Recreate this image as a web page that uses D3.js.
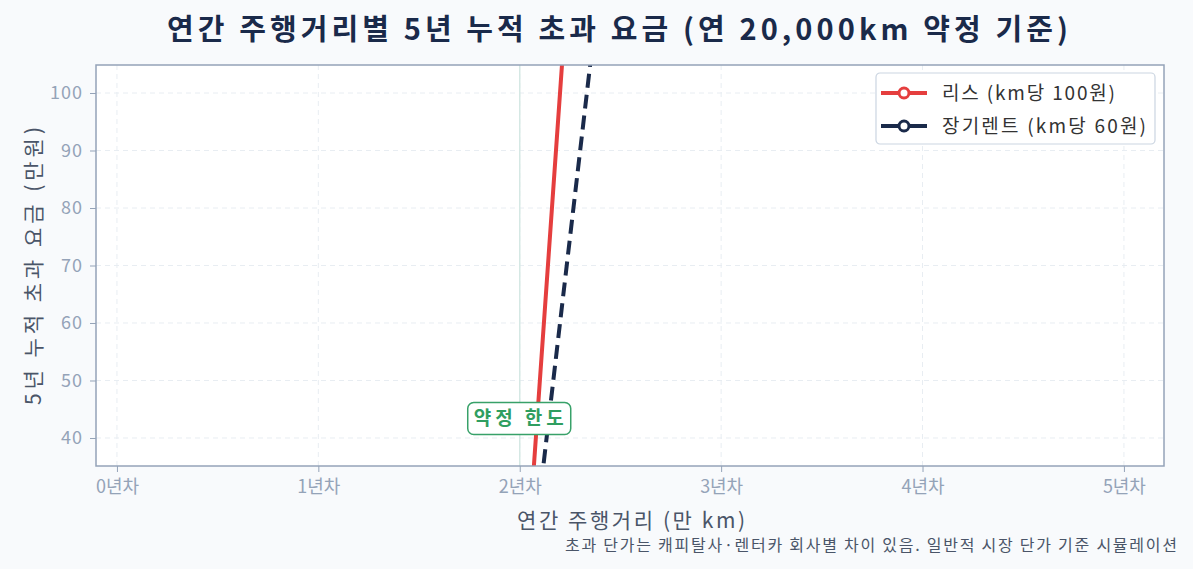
<!DOCTYPE html>
<html>
<head>
<meta charset="utf-8">
<script src="https://cdn.jsdelivr.net/npm/d3@7"></script>
<style>
  html, body { margin: 0; padding: 0; background: #f8fafc; }
  svg text { font-family: "Noto Sans CJK KR", "Noto Sans", sans-serif; }
</style>
</head>
<body>
<svg id="chart" width="1193" height="569"></svg>
<script>
// annual mileage (만 km) and 5-year cumulative excess fee (만원)
const distances = [0, 1, 2, 2.5, 3, 4, 5];
const leaseFee = [0, 0, 0, 250, 500, 1000, 1500];
const rentFee = [0, 0, 0, 150, 300, 600, 900];
const xTicks = [0, 1, 2, 3, 4, 5];
const xTickLabels = ["0년차", "1년차", "2년차", "3년차", "4년차", "5년차"];
const yTicks = [40, 50, 60, 70, 80, 90, 100];
const limitX = 2;

const svg = d3.select("#chart");
const margin = { left: 96, right: 29, top: 65, bottom: 103 };
const W = 1193, H = 569;
const pw = W - margin.left - margin.right, ph = H - margin.top - margin.bottom;

const x = d3.scaleLinear().domain([-0.104, 5.199]).range([0, pw]);
const y = d3.scaleLinear().domain([35.13, 104.87]).range([ph, 0]);

const g = svg.append("g").attr("transform", `translate(${margin.left},${margin.top})`);

g.append("rect").attr("width", pw).attr("height", ph).attr("fill", "#ffffff");

// grid
g.selectAll(".gx").data(xTicks).enter().append("line")
  .attr("x1", d => x(d)).attr("x2", d => x(d)).attr("y1", 0).attr("y2", ph)
  .attr("stroke", "#e8edf2").attr("stroke-dasharray", "5,4").attr("stroke-width", 1);
g.selectAll(".gy").data(yTicks).enter().append("line")
  .attr("y1", d => y(d)).attr("y2", d => y(d)).attr("x1", 0).attr("x2", pw)
  .attr("stroke", "#e8edf2").attr("stroke-dasharray", "5,4").attr("stroke-width", 1);

// contract limit line
g.append("line").attr("x1", x(limitX)).attr("x2", x(limitX)).attr("y1", 0).attr("y2", ph)
  .attr("stroke", "#d5e8e4").attr("stroke-width", 1.5);

svg.append("defs").append("clipPath").attr("id", "clip")
  .append("rect").attr("width", pw).attr("height", ph);

const line = d3.line().x(d => x(d[0])).y(d => y(d[1]));
const plot = g.append("g").attr("clip-path", "url(#clip)");

const series = [
  { name: "리스 (km당 100원)", values: leaseFee, color: "#e53e3e", dash: null, len: 173 },
  { name: "장기렌트 (km당 60원)", values: rentFee, color: "#1a2a4a", dash: "14,7", len: 204 }
];

series.forEach(s => {
  const pts = distances.map((d, i) => [d, s.values[i]]);
  plot.append("path").datum(pts).attr("d", line)
    .attr("fill", "none").attr("stroke", s.color).attr("stroke-width", 4)
    .attr("stroke-dasharray", s.dash);
  plot.selectAll(null).data(pts).enter().append("circle")
    .attr("cx", d => x(d[0])).attr("cy", d => y(d[1])).attr("r", 5)
    .attr("fill", "#fff").attr("stroke", s.color).attr("stroke-width", 3);
});

// annotation
const ann = g.append("g").attr("transform", `translate(${x(limitX) - 1},${y(43.4)})`);
ann.append("rect").attr("x", -51).attr("y", -16).attr("width", 103).attr("height", 32).attr("rx", 6)
  .attr("fill", "#fff").attr("stroke", "#38a169").attr("stroke-width", 1.5);
ann.append("text").attr("text-anchor", "middle").attr("dy", "0.35em")
  .attr("font-size", 19).attr("font-weight", "bold").attr("fill", "#2f9e60")
  .attr("textLength", 90).attr("lengthAdjust", "spacing").text("약정 한도");

// axes
const xAxis = g.append("g").attr("transform", `translate(0,${ph})`)
  .call(d3.axisBottom(x).tickValues(xTicks).tickFormat((d, i) => xTickLabels[i]).tickSize(6).tickPadding(8));
const yAxis = g.append("g")
  .call(d3.axisLeft(y).tickValues(yTicks).tickSize(6).tickPadding(8));
[xAxis, yAxis].forEach(a => {
  a.select(".domain").remove();
  a.selectAll("line").attr("stroke", "#94a3b8");
  a.selectAll("text").attr("fill", "#94a3b8").attr("font-size", 18)
    .style("font-family", '"Noto Sans CJK KR", sans-serif')
    .attr("lengthAdjust", "spacing");
});
xAxis.selectAll("text").attr("textLength", 43);
yAxis.selectAll("text").attr("textLength", d => d >= 100 ? 32 : 21);

g.append("rect").attr("width", pw).attr("height", ph).attr("fill", "none")
  .attr("stroke", "#94a3b8").attr("stroke-width", 1.5);

// legend
const lg = svg.append("g").attr("transform", "translate(876,73)");
lg.append("rect").attr("width", 279).attr("height", 71).attr("rx", 4)
  .attr("fill", "#fff").attr("stroke", "#cbd5e1").attr("stroke-width", 1.2);
series.forEach((s, i) => {
  const ly = 20 + i * 33;
  lg.append("line").attr("x1", 5).attr("x2", 51).attr("y1", ly).attr("y2", ly)
    .attr("stroke", s.color).attr("stroke-width", 4);
  lg.append("circle").attr("cx", 28).attr("cy", ly).attr("r", 5)
    .attr("fill", "#fff").attr("stroke", s.color).attr("stroke-width", 3);
  lg.append("text").attr("x", 66).attr("y", ly).attr("dy", "0.35em")
    .attr("font-size", 19).attr("fill", "#333")
    .attr("textLength", s.len).attr("lengthAdjust", "spacing").text(s.name);
});

// titles
svg.append("text").attr("x", 617.5).attr("y", 30).attr("dy", "0.35em").attr("text-anchor", "middle")
  .attr("font-size", 29).attr("font-weight", "bold").attr("fill", "#1a2a4a")
  .attr("textLength", 901).attr("lengthAdjust", "spacing")
  .text("연간 주행거리별 5년 누적 초과 요금 (연 20,000km 약정 기준)");
svg.append("text").attr("x", 631).attr("y", 521).attr("dy", "0.35em").attr("text-anchor", "middle")
  .attr("font-size", 21).attr("fill", "#4a5568")
  .attr("textLength", 228).attr("lengthAdjust", "spacing").text("연간 주행거리 (만 km)");
svg.append("text").attr("transform", "translate(34,266) rotate(-90)").attr("dy", "0.35em")
  .attr("text-anchor", "middle").attr("font-size", 21).attr("fill", "#4a5568")
  .attr("textLength", 278).attr("lengthAdjust", "spacing")
  .text("5년 누적 초과 요금 (만원)");
svg.append("text").attr("x", 1177).attr("y", 545).attr("dy", "0.35em").attr("text-anchor", "end")
  .attr("font-size", 16).attr("fill", "#4a5568")
  .attr("textLength", 612).attr("lengthAdjust", "spacing")
  .text("초과 단가는 캐피탈사·렌터카 회사별 차이 있음. 일반적 시장 단가 기준 시뮬레이션");
</script>
</body>
</html>
